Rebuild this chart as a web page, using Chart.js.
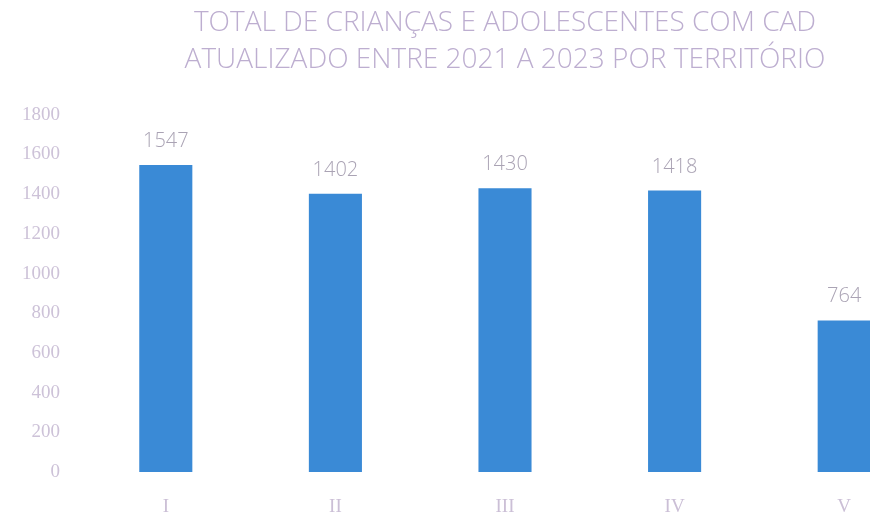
<!DOCTYPE html>
<html>
<head>
<meta charset="utf-8">
<script src="https://cdn.jsdelivr.net/npm/chart.js@4/dist/chart.umd.min.js"></script>
<style>
html,body{margin:0;padding:0;overflow:hidden;background:#fff;width:870px;height:516px;}
#wrap{width:870px;height:516px;overflow:hidden;}
</style>
</head>
<body>
<div id="wrap"><canvas id="c" width="1010" height="516"></canvas></div>
<script>
const categories = ["I", "II", "III", "IV", "V"];
const values = [1547, 1402, 1430, 1418, 764];
const titleLines = ["TOTAL DE CRIANÇAS E ADOLESCENTES COM CAD", "ATUALIZADO ENTRE 2021 A 2023 POR TERRITÓRIO"];
const yMin = 0, yMax = 1800, yStep = 200;

const valueLabels = {
  id: 'valueLabels',
  afterDatasetsDraw(chart) {
    const ctx = chart.ctx;
    const meta = chart.getDatasetMeta(0);
    ctx.save();
    ctx.font = '300 20px "Open Sans"';
    ctx.fillStyle = '#aaa3b4';
    ctx.textAlign = 'center';
    ctx.textBaseline = 'alphabetic';
    meta.data.forEach((bar, i) => {
      ctx.fillText(String(values[i]), bar.x, bar.y - 18);
    });
    ctx.restore();
  }
};

new Chart(document.getElementById('c'), {
  type: 'bar',
  data: {
    labels: categories,
    datasets: [{
      data: values,
      backgroundColor: '#3a8ad6',
      borderWidth: 0,
      categoryPercentage: 1,
      barPercentage: 0.313
    }]
  },
  options: {
    responsive: false,
    animation: false,
    devicePixelRatio: 1,
    layout: { padding: 0 },
    plugins: {
      legend: { display: false },
      tooltip: { enabled: false },
      title: {
        display: true,
        text: titleLines,
        color: '#bdaed0',
        font: { family: '"Open Sans"', size: 28, weight: 300, lineHeight: 1.3 },
        padding: { top: 5, bottom: 37 }
      }
    },
    scales: {
      x: {
        grid: { display: false, drawTicks: false },
        border: { display: false },
        ticks: { color: '#cbbfd6', font: { family: '"Liberation Serif"', size: 19 }, padding: 24 },
        afterFit(scale) { scale.height = 44; }
      },
      y: {
        min: yMin, max: yMax,
        grid: { display: false, drawTicks: false },
        border: { display: false },
        ticks: {
          stepSize: yStep, color: '#cdc2d8', font: { family: '"Liberation Serif"', size: 19 }, padding: 21,
          callback: (v) => String(v)
        },
        afterFit(scale) { scale.width = 81; }
      },
      yRight: {
        position: 'right',
        min: yMin, max: yMax,
        grid: { display: false, drawTicks: false },
        border: { display: false },
        ticks: { display: false },
        afterFit(scale) { scale.width = 81; }
      }
    }
  },
  plugins: [valueLabels]
});
</script>
</body>
</html>
